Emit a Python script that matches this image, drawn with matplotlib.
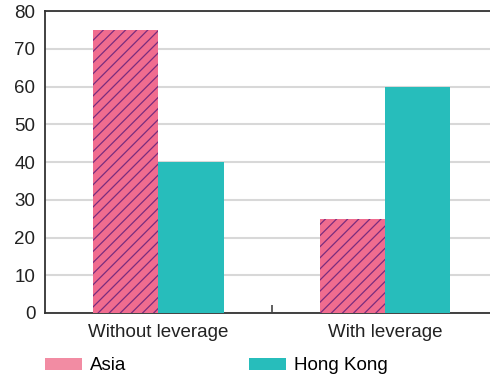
import numpy as np
import matplotlib
matplotlib.use("Agg")
import matplotlib.pyplot as plt
from matplotlib.patches import Patch

categories = ["Without leverage", "With leverage"]
asia = [75, 25]
hong_kong = [40, 60]
y_ticks = [0, 10, 20, 30, 40, 50, 60, 70, 80]

c_asia = "#F06C8F"
c_asia_legend = "#F28CA3"
c_hk = "#27BDBB"
c_hatch = "#7A2C7E"

plt.rcParams["font.family"] = ["Liberation Sans", "DejaVu Sans"]
plt.rcParams["hatch.color"] = c_hatch
plt.rcParams["hatch.linewidth"] = 0.9

fig = plt.figure(figsize=(4.9, 3.76), dpi=100)
ax = fig.add_axes([0.0918, 0.1676, 0.926, 0.803])

x = np.arange(len(categories))
w = 0.287
ax.bar(x - w / 2, asia, width=w, color=c_asia, hatch="///", linewidth=0, zorder=3)
ax.bar(x + w / 2, hong_kong, width=w, color=c_hk, linewidth=0, zorder=3)

ax.set_xlim(-0.5, 1.5)
ax.set_ylim(0, 80)
ax.set_yticks(y_ticks)
ax.yaxis.grid(True, color="#D8D8D8", linewidth=1.5, zorder=0)
ax.set_axisbelow(True)

fs = 13.5
ax.set_xticks(x)
ax.set_xticklabels(categories)
ax.set_xticks([0.5], minor=True)
ax.tick_params(axis="x", which="major", length=0, pad=8, labelsize=fs, colors="#222222")
ax.tick_params(axis="x", which="minor", direction="in", length=6, width=1.2, color="#444444")
ax.tick_params(axis="y", length=0, pad=7, labelsize=fs, colors="#222222")

for s in ax.spines.values():
    s.set_color("#333333")
    s.set_linewidth(1.3)

handles = [Patch(facecolor=c_asia_legend, label="Asia"),
           Patch(facecolor=c_hk, label="Hong Kong")]
fig.legend(handles=handles, loc="lower left", bbox_to_anchor=(0.057, -0.04), ncol=2,
           frameon=False, fontsize=fs, handlelength=2.0, handleheight=0.6,
           handletextpad=0.4, columnspacing=6.55)

fig.savefig("out.png", dpi=100)
